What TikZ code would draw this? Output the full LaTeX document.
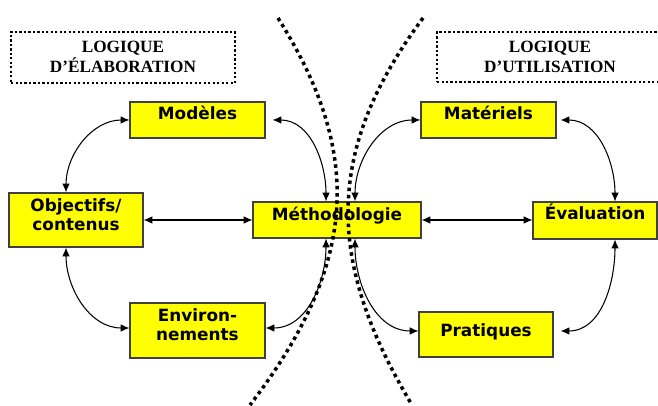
\documentclass[tikz,border=0pt]{standalone}
\usepackage{fontspec}
\setmainfont{Liberation Serif}
\setsansfont{DejaVu Sans}
\usetikzlibrary{arrows.meta}
\definecolor{jaune}{RGB}{255,255,0}
\begin{document}
\begin{tikzpicture}[
			x=0.02cm, y=0.02cm,
			bloc/.style={draw=black!75, line width=0.6pt, fill=jaune, inner sep=0pt, align=center,
					font=\sffamily\bfseries\fontsize{9.6}{11}\selectfont},
			logique/.style={draw, line width=1.25pt, dash pattern=on 1.25pt off 1.3pt, inner sep=0pt,
					align=center, font=\bfseries\fontsize{9.8}{11.4}\selectfont},
			frontiere/.style={line width=2pt, dash pattern=on 2pt off 2.1pt},
			lien/.style={line width=0.6pt, {Latex[length=5pt,width=4.3pt]}-{Latex[length=5pt,width=4.3pt]}}
		]
		\useasboundingbox (0,0) rectangle (658,405);
		\node[logique, minimum width=4.48cm, text height=0.82cm, text depth=0.2cm] (elaboration) at (123,347.5) {LOGIQUE\\D’ÉLABORATION};
		\node[logique, minimum width=4.52cm, text height=0.82cm, text depth=0.18cm] (utilisation) at (550,348) {LOGIQUE\\D’UTILISATION};
		\node[bloc, minimum width=2.7cm, text height=0.36cm, text depth=0.36cm] (modeles) at (197.5,285) {Modèles};
		\node[bloc, minimum width=2.7cm, text height=0.36cm, text depth=0.36cm] (materiels) at (488.5,285) {Matériels};
		\node[bloc, minimum width=2.68cm, text height=0.76cm, text depth=0.32cm] (objectifs) at (76,185) {Objectifs/\\contenus};
		\node[bloc, minimum width=3.36cm, text height=0.38cm, text depth=0.34cm] (methodo) at (337,185) {Méthodologie};
		\node[bloc, minimum width=2.48cm, text height=0.36cm, text depth=0.38cm] (evaluation) at (595,184.5) {Évaluation};
		\node[bloc, minimum width=2.7cm, text height=0.76cm, text depth=0.34cm] (environ) at (197.5,74.5) {Environ-\\nements};
		\node[bloc, minimum width=2.68cm, text height=0.5cm, text depth=0.4cm] (pratiques) at (486,70.5) {Pratiques};
		\draw[frontiere] (278,387) .. controls (361,255) and (361,145) .. (250,0);
		\draw[frontiere] (423,387) .. controls (325,255) and (325,145) .. (412,0);
		\draw[lien] (modeles.west) to[out=180,in=90] ([xshift=-0.2cm]objectifs.north);
		\draw[lien] ([xshift=-0.2cm]objectifs.south) to[out=270,in=180] ([yshift=0.05cm]environ.west);
		\draw[lien] (objectifs.east) -- (methodo.west);
		\draw[lien] (methodo.east) -- (methodo.east -| evaluation.west);
		\draw[lien] ([xshift=0.14cm]modeles.east) to[out=0,in=90] ([xshift=-0.22cm]methodo.north);
		\draw[lien] ([xshift=-0.22cm]methodo.south) to[out=270,in=0] ([yshift=0.05cm]environ.east);
		\draw[lien] (materiels.west) to[out=180,in=90] ([xshift=0.36cm]methodo.north);
		\draw[lien] ([xshift=0.36cm]methodo.south) to[out=270,in=180] ([yshift=0.07cm]pratiques.west);
		\draw[lien] ([xshift=0.08cm]materiels.east) to[out=0,in=90] ([xshift=0.4cm]evaluation.north);
		\draw[lien] ([xshift=0.4cm]evaluation.south) to[out=270,in=0] ([xshift=0.14cm,yshift=0.07cm]pratiques.east);
	\end{tikzpicture}
\end{document}
